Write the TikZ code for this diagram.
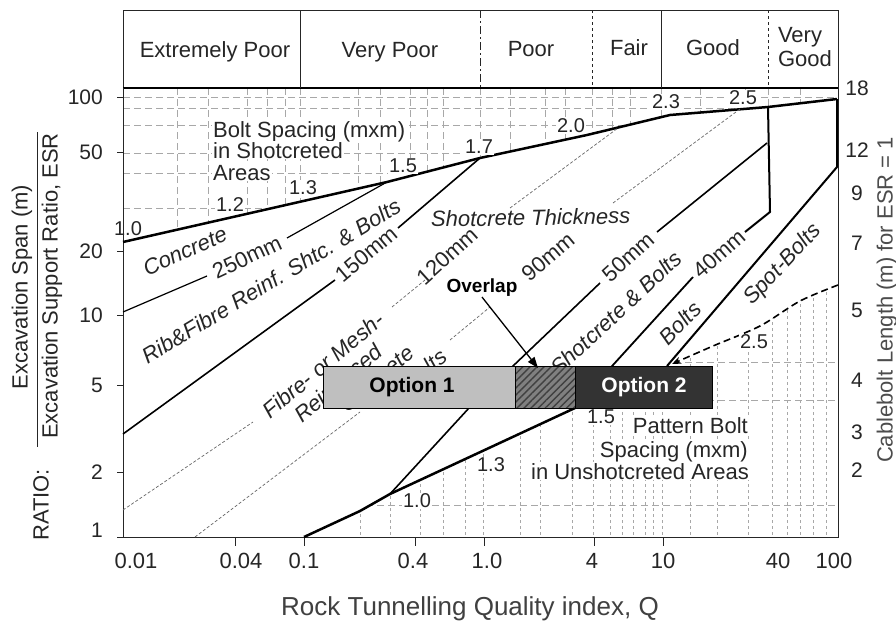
\documentclass[tikz,border=0pt]{standalone}
\usepackage{fontspec}
\setmainfont{Liberation Sans}
\usetikzlibrary{arrows.meta,patterns.meta}
\definecolor{ink}{gray}{0.15}
\definecolor{gridc}{gray}{0.66}
\definecolor{optone}{gray}{0.75}
\definecolor{opttwo}{gray}{0.2}
\definecolor{hatchbg}{gray}{0.5}
\begin{document}
\begin{tikzpicture}[x=1pt,y=-1pt,
  txt/.style={text=ink,inner sep=0pt,font=\fontsize{22}{26}\selectfont},
  itx/.style={text=ink,inner sep=0pt,font=\fontsize{22}{26}\selectfont\itshape},
  num/.style={text=ink,inner sep=1pt,fill=white,font=\fontsize{20}{22}\selectfont},
  tlab/.style={text=ink,inner sep=0pt,font=\fontsize{22}{26}\selectfont},
  heavy/.style={draw=black,line width=2.5pt,line join=round},
  med/.style={draw=black,line width=1.6pt,line join=round},
  thinl/.style={draw=black,line width=1.2pt},
  dotl/.style={draw=black!60,line width=0.7pt,dash pattern=on 3pt off 2pt},
  gridd/.style={draw=gridc,line width=0.6pt,dash pattern=on 7pt off 4pt},
  gridv/.style={draw=gridc,line width=0.6pt,dash pattern=on 3pt off 3pt},
  optbox/.style={draw=black,line width=1.2pt,minimum height=42pt,inner sep=0pt,anchor=north west},
  optlab/.style={inner sep=0pt,font=\fontsize{21}{24}\selectfont\bfseries},
  blk/.style={txt,fill=white,inner sep=1pt,anchor=base west}
]
\fill[white] (0,0) rectangle (896,621);
\useasboundingbox (0,0) rectangle (896,621);

% ---------- header ----------
\draw[line width=1pt,ink] (123,10) rectangle (838,88);
\draw[line width=1.6pt] (123,88) -- (838,88);
\draw[line width=0.8pt,ink] (300,10) -- (300,88);
\draw[line width=0.8pt,ink,dash pattern=on 8pt off 3pt on 2pt off 3pt] (480,10) -- (480,88);
\draw[line width=0.8pt,ink,dashed] (592,10) -- (592,88);
\draw[line width=0.8pt,ink] (661,10) -- (661,88);
\draw[line width=0.8pt,ink,dashed] (768,10) -- (768,88);
\node[txt,anchor=base] (hep) at (215,57) {Extremely Poor};
\node[txt,anchor=base] (hvp) at (390,57) {Very Poor};
\node[txt,anchor=base] (hp) at (531,56) {Poor};
\node[txt,anchor=base] (hf) at (629,55) {Fair};
\node[txt,anchor=base] (hg) at (713,55) {Good};
\node[txt,anchor=base] (hvg1) at (800,42) {Very};
\node[txt,anchor=base] (hvg2) at (805,66) {Good};

% ---------- grids ----------
\begin{scope}
\clip (123,89) -- (838,89) -- (837,99) -- (768,107) -- (670,115) -- (587,135) -- (480,158) -- (387,182) -- (123,242) -- cycle;
\foreach \y in {97,108,125,153,173,208} \draw[gridd] (123,\y) -- (838,\y);
\foreach \x in {177,208,247,267,285,300,358,380,410,427,443,480,510,545,565,592,612,630,661,700,745,768,800}
  \draw[gridd] (\x,88) -- (\x,245);
\end{scope}
\begin{scope}
\clip (304,537) -- (575,408) -- (712,408) -- (712,366) -- (670,366) -- (713,345) -- (760,327) -- (800,300) -- (838,285) -- (838,537) -- cycle;
\foreach \x in {360,390,420,443,465,483,520,540,572,593,610,622,633,645,653,662,690,717,748,772,787,800,813,826}
  \draw[gridv] (\x,280) -- (\x,537);
\foreach \y in {362,400,505} \draw[gridd] (300,\y) -- (838,\y);
\end{scope}

% ---------- frame and ticks ----------
\draw[line width=1pt,ink] (123,88) -- (123,537) -- (838,537) -- (838,88);
\foreach \x in {235,304,415,484,594,663} \draw[line width=0.8pt,ink] (\x,537) -- (\x,546);
\foreach \y in {97,152,251,315,385,472,537} \draw[line width=0.8pt,ink] (117,\y) -- (123,\y);

% ---------- texts in the spacing areas ----------
\node[blk] (bsp1) at (212,137) {Bolt Spacing (mxm)};
\node[blk] (bsp2) at (212,158) {in Shotcreted};
\node[blk] (bsp3) at (212,180) {Areas};
\node[txt,fill=white,inner sep=1pt,anchor=base east] (pbs1) at (749,433) {Pattern Bolt};
\node[txt,fill=white,inner sep=1pt,anchor=base east] (pbs2) at (749,457) {Spacing (mxm)};
\node[txt,fill=white,inner sep=1pt,anchor=base east] (pbs3) at (750,479) {in Unshotcreted Areas};

% ---------- main curves ----------
\draw[heavy] (123,242) -- (387,182) -- (480,158) -- (587,135) -- (670,115) -- (768,107) -- (837,99);
\draw[med,line width=2pt] (837,99) -- (837,167) -- (667,366);
\draw[med,line width=2pt] (768,107) -- (770,212) -- (745,232);
\draw[med,line width=1.8pt] (693,277) -- (613,365) -- (575,408);
\draw[heavy] (575,408) -- (390,494) -- (360,511) -- (304,537);
\draw[med] (767,143) -- (657,232);
\draw[med] (600,283) -- (513,366) -- (469,408) -- (390,494);
\draw[med] (123,434) -- (335,280);
\draw[med] (398,228) -- (480,158);
\draw[thinl] (123,312) -- (207,276);
\draw[thinl] (287,238) -- (387,182);
\draw[dotl] (123,510) -- (253,422);
\draw[dotl] (392,307) -- (425,280);
\draw[dotl] (510,208) -- (618,128);
\draw[dotl] (195,537) -- (360,412);
\draw[dotl] (450,340) -- (490,307);
\draw[dotl] (613,203) -- (740,109);
\draw[line width=1.6pt,dash pattern=on 7pt off 4pt,-{Stealth[length=9pt,width=7pt]}]
  plot[smooth] coordinates {(838,285) (800,301) (760,326) (713,346) (672,364)};

% ---------- line labels ----------
\node[txt,rotate=25] (l250) at (247,257) {250mm};
\node[txt,rotate=40] (l150) at (366,254) {150mm};
\node[txt,rotate=42] (l120) at (447,256) {120mm};
\node[txt,rotate=40] (l90) at (548,257) {90mm};
\node[txt,rotate=42] (l50) at (628,257) {50mm};
\node[txt,rotate=41] (l40) at (719,254) {40mm};

\node[itx,rotate=24] (rconc) at (185,251) {Concrete};
\node[itx,rotate=31] (rrib) at (271,281) {Rib\&Fibre Reinf. Shtc. \& Bolts};
\node[itx,anchor=base west,rotate=1] (rst) at (431,227) {Shotcrete Thickness};
\node[itx,rotate=40] (rf1) at (323,365) {Fibre- or Mesh-};
\node[itx,rotate=40] (rf2) at (338,383) {Reinforced};
\node[itx,rotate=40] (rf3) at (377,379) {Concrete};
\node[itx,rotate=40] (rf4) at (417,376) {\& Bolts};
\node[itx,rotate=43] (rsb) at (616,313) {Shotcrete \& Bolts};
\node[itx,rotate=46] (rb) at (680,323) {Bolts};
\node[itx,rotate=47] (rspot) at (783,265) {Spot-Bolts};

% ---------- spacing numbers ----------
\node[num,fill=none] (n10a) at (128,229) {1.0};
\node[num] (n12) at (230,205) {1.2};
\node[num] (n13a) at (303,188) {1.3};
\node[num] (n15a) at (403,166) {1.5};
\node[num] (n17) at (479,147) {1.7};
\node[num] (n20) at (571,126) {2.0};
\node[num] (n23) at (666,102) {2.3};
\node[num] (n25a) at (743,98) {2.5};
\node[num] (n25b) at (754,342) {2.5};
\node[num] (n15b) at (601,417) {1.5};
\node[num] (n13b) at (491,465) {1.3};
\node[num] (n10b) at (417,501) {1.0};

% ---------- axes labels ----------
\foreach \v/\y in {100/97,50/152,20/251,10/315,5/385,2/472,1/530}
  \node[tlab,anchor=east,font=\fontsize{21}{24}\selectfont] at (103,\y) {\v};
\foreach \v/\y in {18/88,12/150,9/193,7/243,5/310,4/380,3/432,2/470}
  \node[tlab,font=\fontsize{21}{24}\selectfont] at (857,\y) {\v};
\foreach \v/\x in {0.01/136,0.04/241,0.1/304,0.4/413,1.0/487,4/592,10/663,40/778,100/834}
  \node[tlab,anchor=base] at (\x,568) {\v};

\node[txt,rotate=90] (yl1) at (22,287) {Excavation Span (m)};
\draw[line width=1pt,ink] (37,132) -- (37,447);
\node[txt,rotate=90] (yl2) at (52,286) {Excavation Support Ratio, ESR};
\node[txt,rotate=90] (yl3) at (41,505) {RATIO:};
\node[txt,rotate=90,text=black!70] (yr) at (887,300) {Cablebolt Length (m) for ESR = 1};
\node[txt,anchor=base,text=black!75,font=\fontsize{26}{30}\selectfont] (xl) at (470,615) {Rock Tunnelling Quality index, Q};

% ---------- option boxes ----------
\node[optbox,fill=optone,minimum width=192pt] (opta) at (323,366) {};
\path[fill=hatchbg] (515,366) rectangle (575,408);
\path[pattern={Lines[angle=45,distance=5pt,line width=1.4pt]},pattern color=black!75] (515,366) rectangle (575,408);
\node[optbox,minimum width=60pt] (ovl) at (515,366) {};
\node[optbox,fill=opttwo,minimum width=137pt] (optb) at (575,366) {};
\node[optlab,text=black] (optatxt) at (412,387) {Option 1};
\node[optlab,text=white] (optbtxt) at (644,387) {Option 2};

\node[inner sep=0pt,font=\fontsize{19}{22}\selectfont\bfseries] (ov) at (482,288) {Overlap};
\coordinate (ovtip) at (538,368);
\draw[line width=1.3pt,-{Triangle[length=11pt,width=8pt]}] (ov.south) -- (ovtip);
\end{tikzpicture}
\end{document}
